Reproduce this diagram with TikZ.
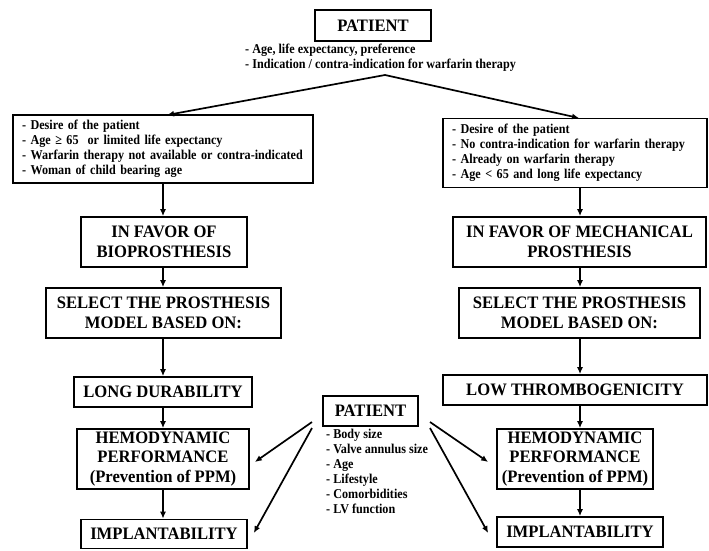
\documentclass[tikz,border=0pt]{standalone}
\usepackage{fontspec}
\setmainfont{Liberation Serif}
\newfontfamily\tfont[FakeStretch=0.95]{Liberation Serif}
\newfontfamily\sfontx[FakeStretch=0.9]{Liberation Serif}
\usetikzlibrary{arrows.meta,calc}
\tikzset{
  bigbox/.style={draw, line width=1.7pt, font=\tfont\bfseries\fontsize{17.5}{19.5}\selectfont, align=center, inner sep=0pt},
  critbox/.style={draw, line width=1.1pt, font=\sfontx\bfseries\fontsize{13.5}{15}\selectfont, align=left, inner sep=0pt},
  listtxt/.style={font=\sfontx\bfseries\fontsize{13.5}{15}\selectfont, align=left, inner sep=0pt},
  arr/.style={line width=1.7pt, -{Latex[length=7pt,width=6pt]}},
}
\begin{document}
\begin{tikzpicture}[x=1pt,y=-1pt]
\useasboundingbox (0,0) rectangle (709,550);
% top
\node[bigbox, minimum width=116pt, minimum height=31pt] (top) at (373,25.5) {PATIENT};
\node[listtxt, anchor=north west] (toplist) at (245,44) {- Age, life expectancy, preference\\- Indication / contra-indication for warfarin therapy};
% criteria boxes
\node[critbox, minimum width=300pt, minimum height=68pt, text width=282pt] (lc) at (163,149) {- Desire of the patient\\- Age ≥ 65\ \ or limited life expectancy\\- Warfarin therapy not available or contra-indicated\\- Woman of child bearing age};
\node[critbox, minimum width=264pt, minimum height=69pt, text width=246pt] (rc) at (575,153) {- Desire of the patient\\- No contra-indication for warfarin therapy\\- Already on warfarin therapy\\- Age < 65 and long life expectancy};
\coordinate (apex) at (385,75);
\coordinate (lcin) at (167,115);
\coordinate (rcin) at (579,118);
\draw[arr] (apex) -- (lcin);
\draw[arr] (apex) -- (rcin);
% left column
\node[bigbox, minimum width=166pt, minimum height=50pt] (lf) at (164,242) {IN FAVOR OF\\BIOPROSTHESIS};
\node[bigbox, minimum width=235pt, minimum height=50pt] (ls) at (163.5,313) {SELECT THE PROSTHESIS\\MODEL BASED ON:};
\node[bigbox, minimum width=178pt, minimum height=30pt] (ld) at (163,392) {LONG DURABILITY};
\node[bigbox, minimum width=172pt, minimum height=60pt] (lh) at (163,459) {HEMODYNAMIC\\PERFORMANCE\\(Prevention of PPM)};
\node[bigbox, minimum width=166pt, minimum height=29pt] (li) at (164,534) {IMPLANTABILITY};
% right column
\node[bigbox, minimum width=253pt, minimum height=50pt] (rf) at (579.5,242) {IN FAVOR OF MECHANICAL\\PROSTHESIS};
\node[bigbox, minimum width=241pt, minimum height=50pt] (rs) at (579.5,313) {SELECT THE PROSTHESIS\\MODEL BASED ON:};
\node[bigbox, minimum width=264pt, minimum height=30pt] (rt) at (575,390) {LOW THROMBOGENICITY};
\node[bigbox, minimum width=156pt, minimum height=60pt] (rh) at (575,459) {HEMODYNAMIC\\PERFORMANCE\\(Prevention of PPM)};
\node[bigbox, minimum width=166pt, minimum height=30pt] (ri) at (580,532) {IMPLANTABILITY};
% middle patient
\node[bigbox, minimum width=95pt, minimum height=30pt] (mp) at (370.5,411) {PATIENT};
\node[listtxt, anchor=north west] (mlist) at (326,429) {- Body size\\- Valve annulus size\\- Age\\- Lifestyle\\- Comorbidities\\- LV function};
% vertical arrows left
\draw[arr] (lc.south -| 163,0) -- (lf.north -| 163,0);
\draw[arr] (lf.south -| 163,0) -- (ls.north -| 163,0);
\draw[arr] (ls.south -| 163,0) -- (ld.north -| 163,0);
\draw[arr] (ld.south -| 163,0) -- (lh.north -| 163,0);
\draw[arr] (lh.south -| 163,0) -- (li.north -| 163,0);
% vertical arrows right
\draw[arr] (rc.south -| 580,0) -- (rf.north -| 580,0);
\draw[arr] (rf.south -| 580,0) -- (rs.north -| 580,0);
\draw[arr] (rs.south -| 580,0) -- (rt.north -| 580,0);
\draw[arr] (rt.south -| 580,0) -- (rh.north -| 580,0);
\draw[arr] (rh.south -| 580,0) -- (ri.north -| 580,0);
% patient side arrows
\coordinate (mpl1) at (312,422);
\coordinate (mpl2) at (312,428);
\coordinate (mpr1) at (430,422);
\coordinate (mpr2) at (430,428);
\draw[arr] (mpl1) -- ($(lh.east |- 0,462)+(5,0)$);
\draw[arr] (mpl2) -- ($(li.east |- 0,533)+(6,0)$);
\draw[arr] (mpr1) -- ($(rh.west |- 0,462)+(-8,0)$);
\draw[arr] (mpr2) -- ($(ri.west |- 0,533)+(-8,0)$);
\end{tikzpicture}
\end{document}
